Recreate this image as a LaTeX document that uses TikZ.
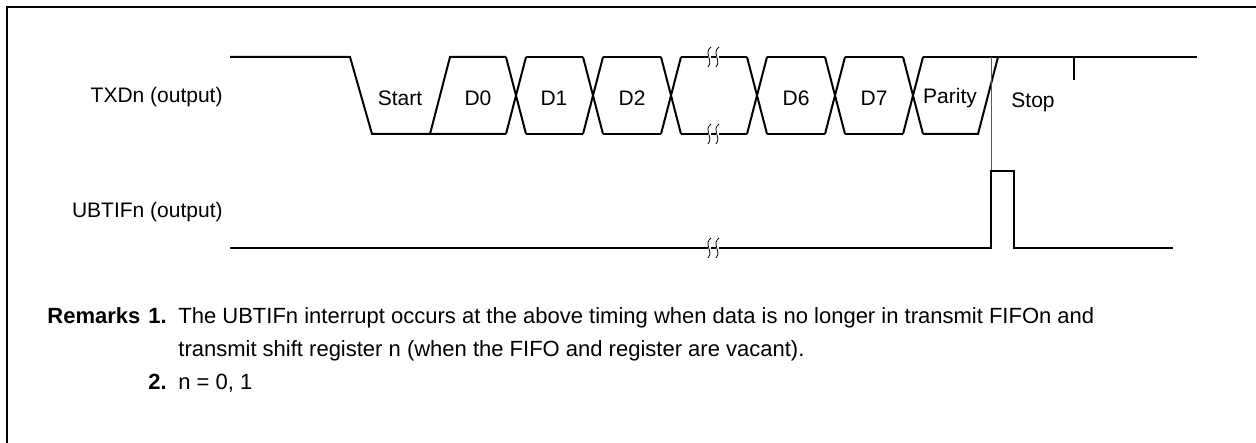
\documentclass[tikz,border=0pt]{standalone}
\usepackage{fontspec}
\setmainfont{Liberation Sans}
\usetikzlibrary{positioning}

\begin{document}
\begin{tikzpicture}[x=0.5pt,y=-0.5pt,
  sig/.style={line width=1pt,line join=miter},
  brk/.style={line width=0.4pt},
  lbl/.style={inner sep=0pt,font=\fontsize{10.5}{12}\selectfont},
  rem/.style={inner sep=0pt,anchor=base west,font=\fontsize{11}{13}\selectfont}]
\useasboundingbox (0,0) rectangle (1256,443);
\draw[line width=1pt] (6.5,443)--(6.5,7.5)--(1256,7.5);
\node[lbl,anchor=east] (txd) at (223,97) {TXDn (output)};
\node[lbl,anchor=east] (ubt) at (223,212) {UBTIFn (output)};
\draw[sig] (230,57)--(350,57)--(372,134)--(506,134);
\draw[sig] (430,134)--(450,57)--(506,57);
\foreach \c in {516,593,671,757,835,913} {
 \draw[sig] (\c-10,57)--(\c+10,134) (\c-10,134)--(\c+10,57);
}
\foreach \a/\b in {516/593,593/671,671/757,757/835,835/913} {
 \draw[sig] (\a+10,57)--(\b-10,57) (\a+10,134)--(\b-10,134);
}
\draw[sig] (923,57)--(1197,57);
\draw[sig] (923,134)--(978,134)--(998,57);
\draw[sig] (1074,57)--(1074,80);
\draw[line width=0.35pt,gray!70!black] (991,57)--(991,171);
\draw[sig] (230,248)--(991,248)--(991,171)--(1014,171)--(1014,248)--(1173,248);
\foreach \y in {57,134,248} {
 \foreach \x in {709,717} {
  \fill[white] (\x-1.5,\y-1.5) rectangle (\x+1.5,\y+1.5);
  \draw[brk] (\x+2,\y-10) .. controls (\x-6,\y-4) and (\x+5,\y+3) .. (\x-1,\y+10);
 }
}
\foreach \t/\x/\n in {Start/400/st,D0/478/d0,D1/554/d1,D2/632/d2,D6/796/d6,D7/874/d7,Parity/950/par} {
 \node[lbl] (\n) at (\x,98) {\t};
}
\node[lbl] (stop) at (1033,102) {Stop};
\node[rem] (remk) at (47,323) {\textbf{Remarks}};
\node[rem] (one) at (148,323) {\textbf{1.}};
\node[rem] (r1a) at (178,323) {The UBTIFn interrupt occurs at the above timing when data is no longer in transmit FIFOn and};
\node[rem] (r1b) at (178,356) {transmit shift register n (when the FIFO and register are vacant).};
\node[rem] (two) at (148,389) {\textbf{2.}};
\node[rem] (r2) at (178,389) {n = 0, 1};
\end{tikzpicture}
\end{document}
